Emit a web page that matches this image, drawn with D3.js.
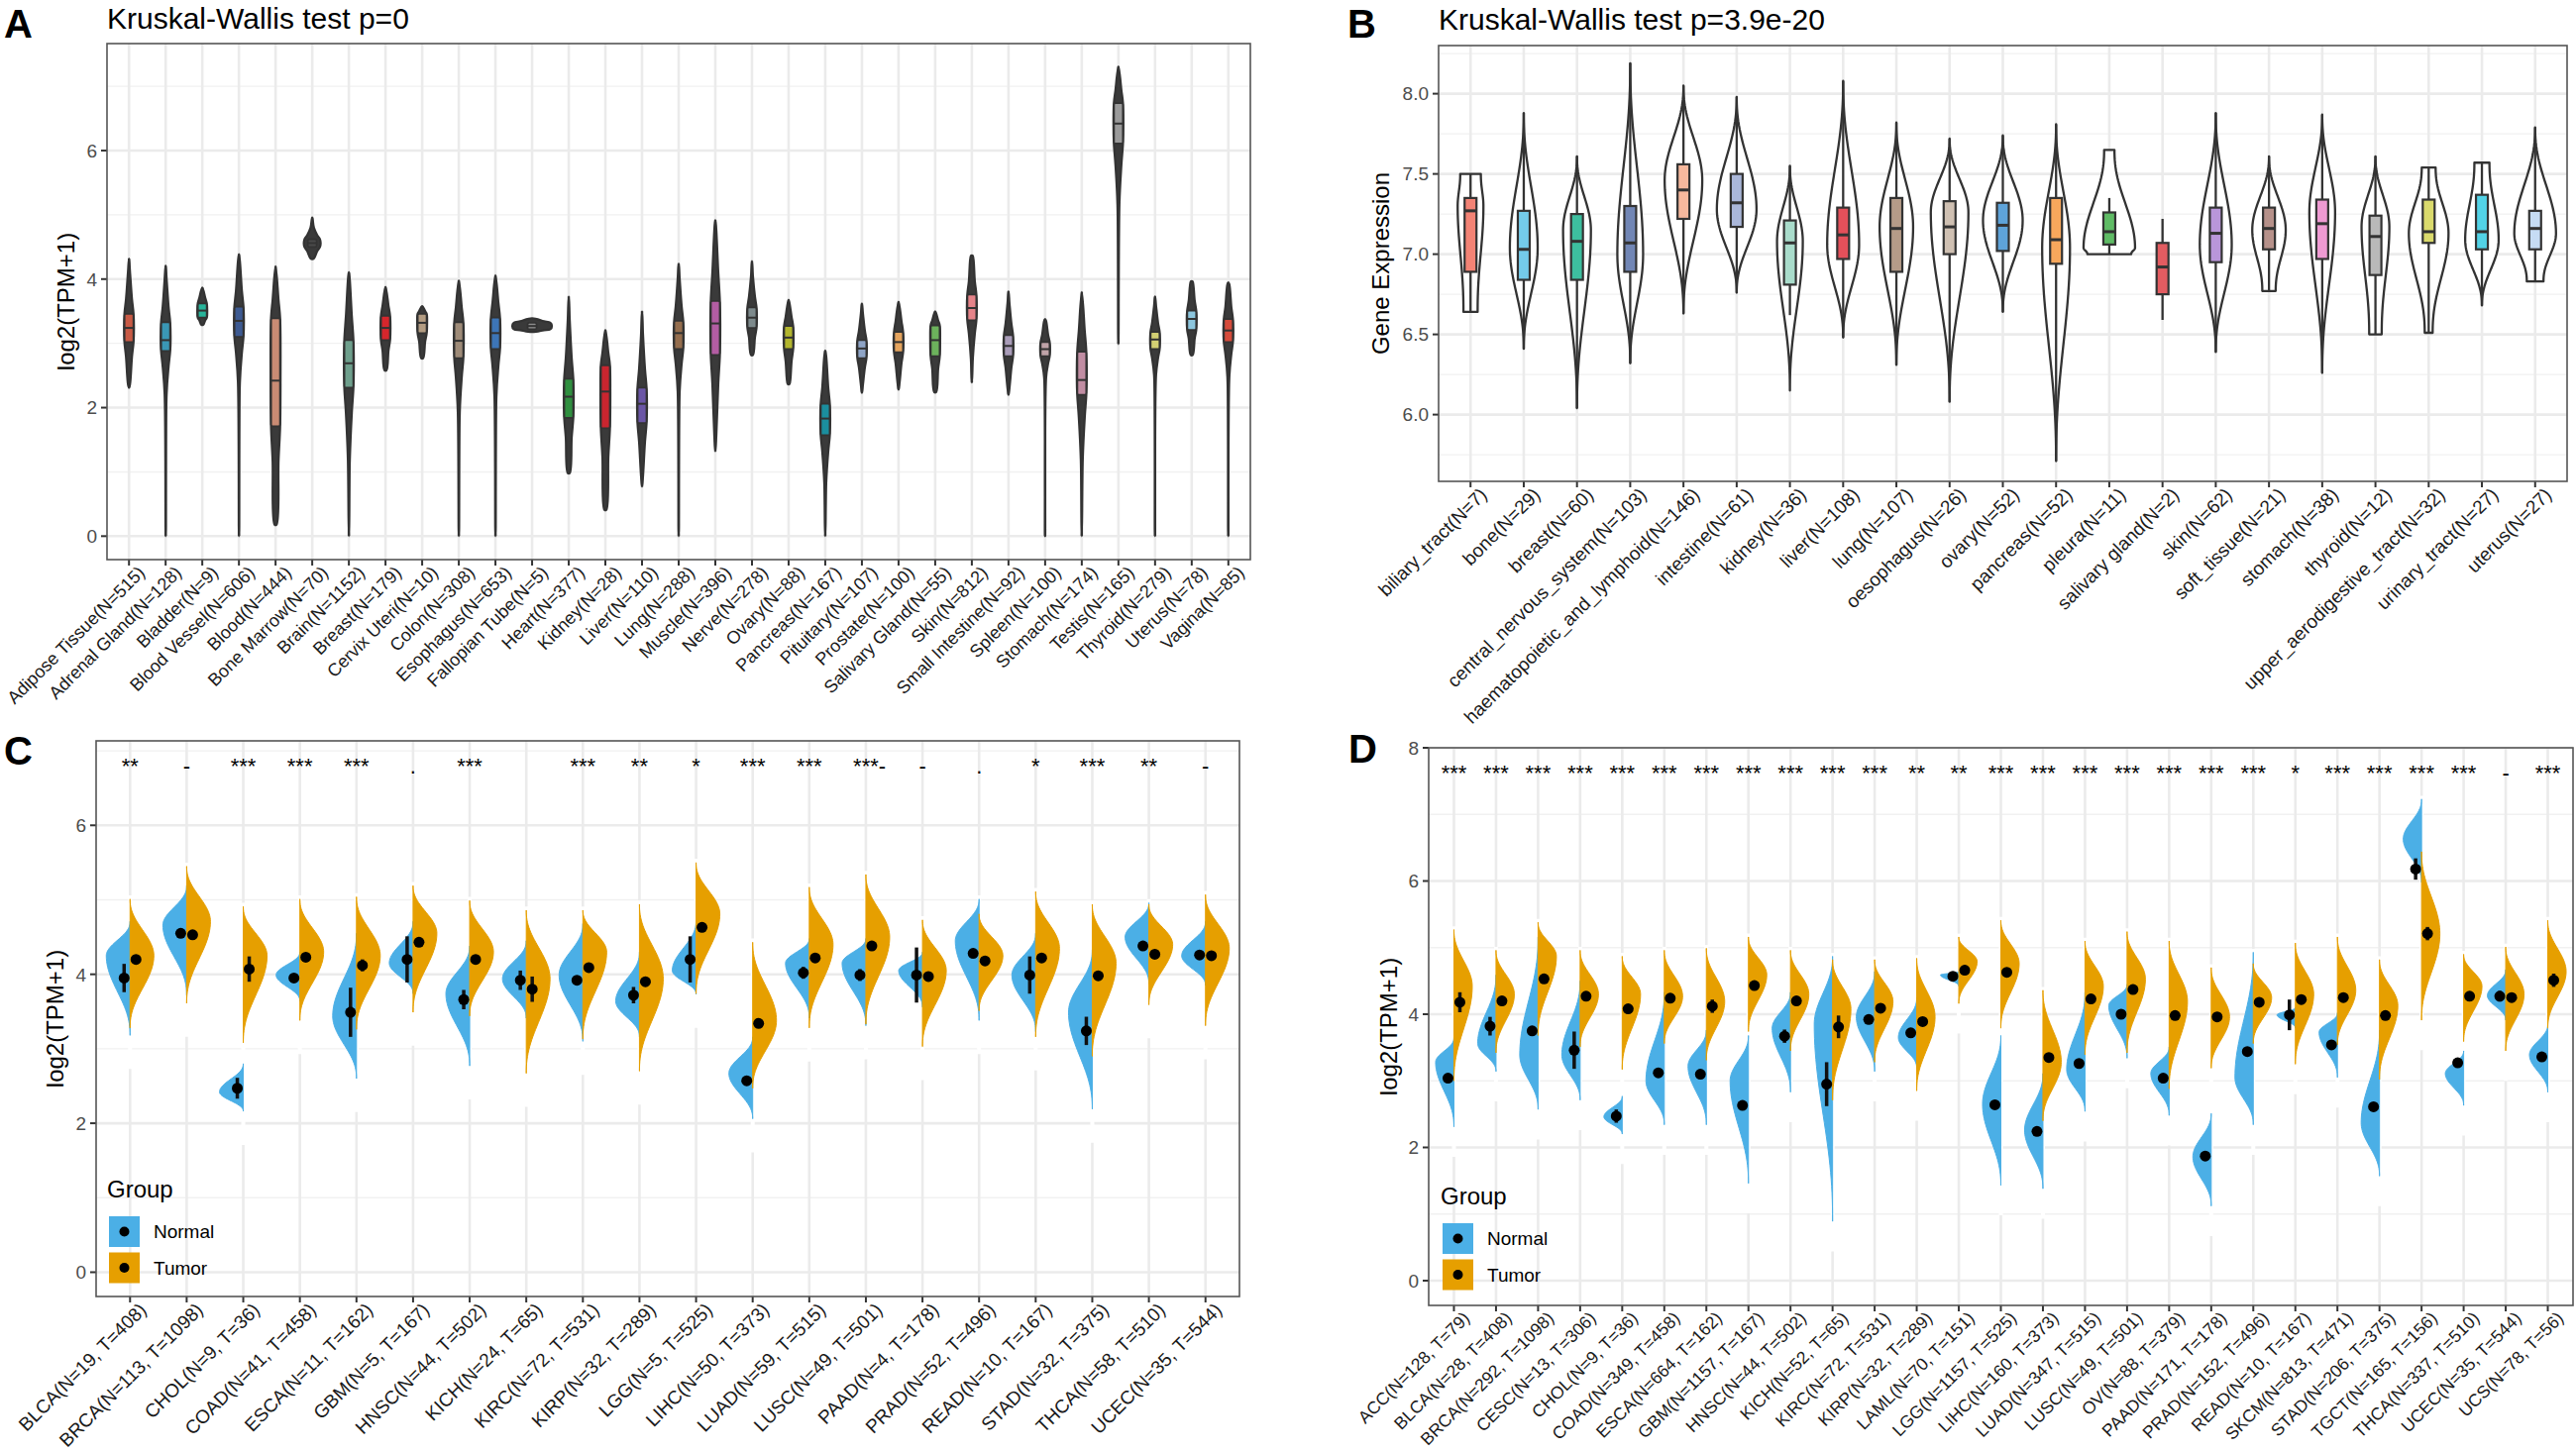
<!DOCTYPE html>
<html>
<head>
<meta charset="utf-8">
<script src="https://cdn.jsdelivr.net/npm/d3@7"></script>
<style>
  body { margin: 0; background: #fff; }
  svg { font-family: "Liberation Sans", Arial, sans-serif; }
</style>
</head>
<body>
<script>
// ---------- panel A : GTEx normal tissues ----------
const tissuesA = ["Adipose Tissue(N=515)", "Adrenal Gland(N=128)", "Bladder(N=9)", "Blood Vessel(N=606)",
  "Blood(N=444)", "Bone Marrow(N=70)", "Brain(N=1152)", "Breast(N=179)", "Cervix Uteri(N=10)", "Colon(N=308)",
  "Esophagus(N=653)", "Fallopian Tube(N=5)", "Heart(N=377)", "Kidney(N=28)", "Liver(N=110)", "Lung(N=288)",
  "Muscle(N=396)", "Nerve(N=278)", "Ovary(N=88)", "Pancreas(N=167)", "Pituitary(N=107)", "Prostate(N=100)",
  "Salivary Gland(N=55)", "Skin(N=812)", "Small Intestine(N=92)", "Spleen(N=100)", "Stomach(N=174)",
  "Testis(N=165)", "Thyroid(N=279)", "Uterus(N=78)", "Vagina(N=85)"];
const minA = [2.31, 0, 3.29, 0, 0.18, 4.31, 0, 2.58, 2.77, 0, 0, 3.18, 0.98, 0.41, 0.77, 0, 1.32, 2.82, 2.36, 0, 2.23, 2.28, 2.24, 2.39, 2.2, 0, 0, 2.99, 0, 2.82, 0];
const q1A = [3.02, 2.88, 3.40, 3.10, 1.71, 4.50, 2.31, 3.05, 3.16, 2.77, 2.91, 3.22, 1.84, 1.68, 1.76, 2.91, 2.82, 3.24, 2.91, 1.57, 2.77, 2.86, 2.80, 3.36, 2.80, 2.80, 2.20, 6.11, 2.91, 3.21, 3.02];
const medA = [3.24, 3.05, 3.51, 3.35, 2.42, 4.56, 2.69, 3.24, 3.32, 3.04, 3.16, 3.27, 2.17, 2.25, 2.06, 3.16, 3.31, 3.40, 3.09, 1.83, 2.92, 3.02, 3.05, 3.55, 2.96, 2.91, 2.43, 6.42, 3.06, 3.38, 3.20];
const q3A = [3.46, 3.33, 3.62, 3.57, 3.39, 4.62, 3.05, 3.43, 3.46, 3.33, 3.40, 3.32, 2.45, 2.66, 2.31, 3.35, 3.66, 3.56, 3.27, 2.06, 3.05, 3.18, 3.28, 3.76, 3.13, 3.02, 2.87, 6.74, 3.18, 3.51, 3.38];
const maxA = [4.32, 4.21, 3.87, 4.39, 4.20, 4.96, 4.11, 3.88, 3.58, 3.98, 4.06, 3.39, 3.73, 3.21, 3.50, 4.24, 4.92, 4.28, 3.68, 2.89, 3.62, 3.65, 3.50, 4.37, 3.81, 3.38, 3.80, 7.31, 3.73, 3.97, 3.95];
const widthA = [1, 1, 1, 1, 1, 1.7, 1, 1, 1, 1, 1, 4, 1, 1, 1, 1, 1, 1, 1, 1, 1, 1, 1, 1, 1, 1, 1, 1, 1, 1, 1];
const paletteA = ["#C85A45", "#3A97B5", "#27B49A", "#3D5A91", "#C98B74", "#4A4A4A", "#6E9F8C", "#D6262C",
  "#B39C82", "#9E8B78", "#3D75B7", "#8C8C8C", "#2F8F3F", "#C9252F", "#6B56A6", "#946D4D", "#B35DA3",
  "#7D8A8C", "#B2B52D", "#1B8E9E", "#8EA4C6", "#E5A45E", "#6CB25C", "#E58389", "#A99CB8", "#BFA3A8",
  "#C18DA3", "#9A9A9A", "#D2CF73", "#8CC6DE", "#D54B3B"];

// ---------- panel B : CCLE cell lines ----------
const linesB = ["biliary_tract(N=7)", "bone(N=29)", "breast(N=60)", "central_nervous_system(N=103)",
  "haematopoietic_and_lymphoid(N=146)", "intestine(N=61)", "kidney(N=36)", "liver(N=108)", "lung(N=107)",
  "oesophagus(N=26)", "ovary(N=52)", "pancreas(N=52)", "pleura(N=11)", "salivary gland(N=2)", "skin(N=62)",
  "soft_tissue(N=21)", "stomach(N=38)", "thyroid(N=12)", "upper_aerodigestive_tract(N=32)",
  "urinary_tract(N=27)", "uterus(N=27)"];
const minB = [6.64, 6.41, 6.04, 6.32, 6.63, 6.76, 6.15, 6.48, 6.31, 6.08, 6.64, 5.71, 7.00, 6.59, 6.39, 6.77, 6.26, 6.50, 6.51, 6.68, 6.83];
const maxB = [7.50, 7.88, 7.61, 8.19, 8.05, 7.98, 7.55, 8.08, 7.82, 7.72, 7.74, 7.81, 7.65, 7.22, 7.88, 7.61, 7.87, 7.61, 7.54, 7.57, 7.79];
const q1B = [6.89, 6.84, 6.84, 6.89, 7.22, 7.17, 6.81, 6.97, 6.89, 7.00, 7.02, 6.94, 7.06, 6.75, 6.95, 7.03, 6.97, 6.87, 7.07, 7.03, 7.03];
const medB = [7.27, 7.03, 7.08, 7.07, 7.40, 7.32, 7.07, 7.12, 7.16, 7.17, 7.18, 7.09, 7.14, 6.92, 7.13, 7.16, 7.19, 7.11, 7.14, 7.14, 7.16];
const q3B = [7.35, 7.27, 7.25, 7.30, 7.56, 7.50, 7.21, 7.29, 7.35, 7.33, 7.32, 7.35, 7.26, 7.07, 7.29, 7.29, 7.34, 7.24, 7.34, 7.37, 7.27];
const whiskLoB = [6.64, 6.41, 6.04, 6.32, 6.63, 6.76, 6.62, 6.48, 6.31, 6.08, 6.64, 5.71, 7.00, 6.59, 6.39, 6.77, 6.26, 6.50, 6.51, 6.68, 6.83];
const whiskHiB = [7.50, 7.88, 7.61, 8.19, 8.05, 7.98, 7.55, 8.08, 7.82, 7.72, 7.74, 7.81, 7.35, 7.22, 7.88, 7.61, 7.87, 7.61, 7.54, 7.57, 7.79];
const peakB = [7.30, 7.04, 7.15, 7.00, 7.46, 7.28, 7.08, 7.06, 7.17, 7.26, 7.21, 7.04, 7.04, 6.92, 7.06, 7.15, 7.26, 7.17, 7.13, 7.09, 7.13];
const widthB = [0.5, 0.54, 0.54, 0.5, 0.73, 0.77, 0.5, 0.62, 0.65, 0.73, 0.77, 0.54, 1.0, 0, 0.62, 0.65, 0.5, 0.54, 0.77, 0.65, 0.81];
const loEndB = [0.55, 0, 0, 0, 0, 0, 0, 0, 0, 0, 0, 0, 0.85, 0, 0, 0.4, 0, 0.45, 0.2, 0, 0.4];
const hiEndB = [0.8, 0, 0, 0, 0, 0, 0, 0, 0, 0, 0, 0, 0.2, 0, 0, 0, 0, 0, 0.35, 0.45, 0];
const paletteB = ["#F38375", "#74CBEA", "#3DBF9F", "#7186B5", "#F6B89D", "#AAB7D9", "#A9DCCB", "#E4505A",
  "#B59B88", "#CFC0B2", "#5EA3D9", "#F7A75C", "#5FBB65", "#E35C61", "#B996DA", "#B6918A", "#EE9AD2",
  "#B9B9B9", "#DADA6C", "#52D2E6", "#C6DCF4"];

// ---------- panel C : TCGA tumour vs normal ----------
const cancersC = ["BLCA(N=19, T=408)", "BRCA(N=113, T=1098)", "CHOL(N=9, T=36)", "COAD(N=41, T=458)",
  "ESCA(N=11, T=162)", "GBM(N=5, T=167)", "HNSC(N=44, T=502)", "KICH(N=24, T=65)", "KIRC(N=72, T=531)",
  "KIRP(N=32, T=289)", "LGG(N=5, T=525)", "LIHC(N=50, T=373)", "LUAD(N=59, T=515)", "LUSC(N=49, T=501)",
  "PAAD(N=4, T=178)", "PRAD(N=52, T=496)", "READ(N=10, T=167)", "STAD(N=32, T=375)", "THCA(N=58, T=510)",
  "UCEC(N=35, T=544)"];
const sigC = ["**", "-", "***", "***", "***", ".", "***", "", "***", "**", "*", "***", "***", "***-", "-", ".", "*", "***", "**", "-"];
const ptNC = [3.95, 4.55, 2.47, 3.95, 3.49, 4.20, 3.66, 3.92, 3.92, 3.72, 4.20, 2.57, 4.02, 3.99, 3.99, 4.28, 3.99, 3.24, 4.38, 4.26];
const ptTC = [4.20, 4.53, 4.07, 4.23, 4.12, 4.43, 4.20, 3.80, 4.09, 3.90, 4.63, 3.34, 4.22, 4.38, 3.97, 4.18, 4.22, 3.98, 4.27, 4.25];
const loNC = [3.18, 3.72, 2.16, 3.64, 2.60, 3.74, 2.77, 3.41, 3.10, 3.16, 3.73, 2.06, 3.41, 3.31, 3.56, 3.38, 3.23, 2.19, 3.87, 3.85];
const hiNC = [4.71, 5.19, 2.80, 4.30, 4.55, 4.71, 4.38, 4.45, 4.68, 4.30, 4.72, 3.16, 4.48, 4.48, 4.30, 5.01, 4.55, 4.33, 4.96, 4.71];
const pkNC = [4.25, 4.66, 2.42, 3.99, 3.44, 4.15, 3.74, 3.94, 3.99, 3.64, 4.05, 2.67, 4.15, 4.15, 4.05, 4.45, 3.99, 3.49, 4.50, 4.25];
const loTC = [3.28, 3.61, 3.08, 3.38, 3.26, 3.49, 3.44, 2.67, 3.13, 2.70, 3.74, 2.47, 3.28, 3.33, 3.03, 3.51, 3.16, 2.90, 3.59, 3.31];
const hiTC = [5.01, 5.45, 4.91, 5.01, 5.04, 5.19, 4.99, 4.86, 4.86, 4.94, 5.50, 4.43, 5.17, 5.34, 4.73, 4.81, 5.11, 4.94, 4.94, 5.07];
const pkTC = [4.25, 4.71, 4.25, 4.30, 4.25, 4.55, 4.30, 3.94, 4.30, 3.94, 4.81, 3.38, 4.40, 4.50, 4.05, 4.25, 4.35, 4.15, 4.40, 4.35];
const errNC = [0.19, 0.05, 0.14, 0.05, 0.33, 0.31, 0.13, 0.13, 0.05, 0.11, 0.31, 0.05, 0.08, 0.08, 0.37, 0.05, 0.25, 0.19, 0.05, 0.05];
const errTC = [0.05, 0.05, 0.17, 0.05, 0.08, 0.05, 0.05, 0.17, 0.05, 0.05, 0.05, 0.05, 0.05, 0.05, 0.05, 0.05, 0.05, 0.05, 0.05, 0.05];

// ---------- panel D : TCGA + GTEx normal ----------
const cancersD = ["ACC(N=128, T=79)", "BLCA(N=28, T=408)", "BRCA(N=292, T=1098)", "CESC(N=13, T=306)",
  "CHOL(N=9, T=36)", "COAD(N=349, T=458)", "ESCA(N=664, T=162)", "GBM(N=1157, T=167)", "HNSC(N=44, T=502)",
  "KICH(N=52, T=65)", "KIRC(N=72, T=531)", "KIRP(N=32, T=289)", "LAML(N=70, T=151)", "LGG(N=1157, T=525)",
  "LIHC(N=160, T=373)", "LUAD(N=347, T=515)", "LUSC(N=49, T=501)", "OV(N=88, T=379)", "PAAD(N=171, T=178)",
  "PRAD(N=152, T=496)", "READ(N=10, T=167)", "SKCM(N=813, T=471)", "STAD(N=206, T=375)",
  "TGCT(N=165, T=156)", "THCA(N=337, T=510)", "UCEC(N=35, T=544)", "UCS(N=78, T=56)"];
const sigD = ["***", "***", "***", "***", "***", "***", "***", "***", "***", "***", "***", "**", "**", "***",
  "***", "***", "***", "***", "***", "***", "*", "***", "***", "***", "***", "-", "***"];
const ptND = [3.04, 3.82, 3.75, 3.46, 2.47, 3.12, 3.10, 2.63, 3.67, 2.95, 3.92, 3.72, 4.57, 2.64, 2.24, 3.26, 4.00, 3.04, 1.87, 3.44, 3.99, 3.54, 2.61, 6.18, 3.27, 4.27, 3.36];
const ptTD = [4.18, 4.20, 4.53, 4.27, 4.08, 4.24, 4.12, 4.43, 4.20, 3.81, 4.09, 3.89, 4.66, 4.63, 3.35, 4.23, 4.37, 3.98, 3.96, 4.18, 4.22, 4.25, 3.98, 5.21, 4.27, 4.25, 4.51];
const loND = [2.31, 3.14, 2.57, 2.71, 2.20, 2.34, 2.34, 1.46, 2.83, 0.89, 3.14, 3.19, 4.42, 1.43, 1.38, 2.54, 3.34, 2.48, 1.12, 2.34, 3.79, 3.05, 1.57, 5.98, 2.63, 3.91, 2.83];
const hiND = [3.65, 4.59, 5.16, 4.50, 2.77, 4.33, 3.76, 3.68, 4.33, 4.87, 4.64, 4.25, 4.64, 3.68, 3.11, 4.33, 4.45, 3.51, 2.51, 4.93, 4.10, 4.02, 3.76, 7.23, 3.45, 4.67, 3.85];
const pkND = [3.28, 3.56, 3.39, 3.39, 2.46, 3.00, 3.22, 3.00, 3.79, 3.85, 3.96, 3.65, 4.59, 2.65, 2.26, 3.17, 4.13, 3.11, 1.86, 3.05, 3.99, 3.73, 2.37, 6.63, 3.11, 4.28, 3.39];
const loTD = [3.00, 3.42, 3.68, 3.51, 3.17, 3.56, 3.31, 3.74, 3.45, 2.71, 3.28, 2.85, 4.16, 3.79, 2.40, 3.39, 3.42, 2.88, 3.19, 3.56, 3.25, 3.54, 3.02, 3.91, 3.59, 3.45, 3.79];
const hiTD = [5.27, 4.96, 5.38, 4.96, 4.87, 4.96, 4.99, 5.16, 4.96, 4.82, 4.82, 4.84, 5.16, 5.41, 4.36, 5.10, 5.24, 5.10, 4.70, 4.76, 5.07, 5.16, 4.82, 6.44, 4.90, 5.01, 5.41];
const pkTD = [4.42, 4.30, 4.87, 4.30, 4.30, 4.27, 4.19, 4.59, 4.30, 4.08, 4.19, 3.96, 4.79, 4.76, 3.28, 4.42, 4.53, 4.19, 3.96, 4.25, 4.30, 4.36, 4.13, 5.21, 4.42, 4.30, 4.64];
const errND = [0.05, 0.14, 0.05, 0.28, 0.10, 0.05, 0.05, 0.05, 0.10, 0.33, 0.05, 0.05, 0.05, 0.05, 0.05, 0.05, 0.05, 0.05, 0.05, 0.05, 0.23, 0.05, 0.05, 0.16, 0.05, 0.08, 0.05];
const errTD = [0.15, 0.05, 0.05, 0.05, 0.05, 0.05, 0.10, 0.05, 0.05, 0.17, 0.05, 0.05, 0.05, 0.05, 0.05, 0.05, 0.05, 0.05, 0.05, 0.05, 0.05, 0.05, 0.05, 0.10, 0.05, 0.05, 0.10];

const groups = ["Normal", "Tumor"];
const groupColors = ["#4BAFE6", "#E69F00"];

// ---------- helpers ----------
const svg = d3.select("body").append("svg")
  .attr("width", 2600)
  .attr("height", 1466);
svg.append("rect").attr("width", 2600).attr("height", 1466).attr("fill", "#fff");

// draws background grid, axes and labels; returns the group to put marks in
function drawFrame(cfg) {
  var g = svg.append("g");
  var x = cfg.x, y = cfg.y;
  var [x0, x1] = x.range(), [y1, y0] = y.range();

  g.selectAll("line.minor").data(cfg.minor).enter().append("line")
    .attr("class", "minor")
    .attr("x1", x0).attr("x2", x1)
    .attr("y1", (d) => y(d)).attr("y2", (d) => y(d))
    .attr("stroke", "#F1F1F1").attr("stroke-width", 1.4);
  g.selectAll("line.major").data(cfg.major).enter().append("line")
    .attr("class", "major")
    .attr("x1", x0).attr("x2", x1)
    .attr("y1", (d) => y(d)).attr("y2", (d) => y(d))
    .attr("stroke", "#EBEBEB").attr("stroke-width", 2.6);
  g.selectAll("line.vgrid").data(x.domain()).enter().append("line")
    .attr("class", "vgrid")
    .attr("x1", (d) => x(d)).attr("x2", (d) => x(d))
    .attr("y1", y0).attr("y2", y1)
    .attr("stroke", "#EBEBEB").attr("stroke-width", 2.6);

  // y axis
  g.selectAll("line.ytick").data(cfg.major).enter().append("line")
    .attr("class", "ytick")
    .attr("x1", x0 - 6).attr("x2", x0)
    .attr("y1", (d) => y(d)).attr("y2", (d) => y(d))
    .attr("stroke", "#333").attr("stroke-width", 2);
  g.selectAll("text.ylab").data(cfg.major).enter().append("text")
    .attr("class", "ylab")
    .attr("x", x0 - 10).attr("y", (d) => y(d))
    .attr("dy", "0.36em")
    .attr("text-anchor", "end")
    .attr("font-size", 19).attr("fill", "#4D4D4D")
    .text(cfg.fmt);

  // x axis
  g.selectAll("line.xtick").data(x.domain()).enter().append("line")
    .attr("class", "xtick")
    .attr("x1", (d) => x(d)).attr("x2", (d) => x(d))
    .attr("y1", y1).attr("y2", y1 + 6)
    .attr("stroke", "#333").attr("stroke-width", 2);
  g.selectAll("text.xlab").data(x.domain()).enter().append("text")
    .attr("class", "xlab")
    .attr("transform", (d) => `translate(${x(d) + 8}, ${y1 + 5}) rotate(-45)`)
    .attr("text-anchor", "end")
    .attr("dy", "0.72em")
    .attr("font-size", cfg.labelSize).attr("fill", "#1A1A1A")
    .text((d) => d);

  // axis title
  g.append("text")
    .attr("transform", `translate(${cfg.titleX}, ${(y0 + y1) / 2}) rotate(-90)`)
    .attr("text-anchor", "middle")
    .attr("dy", "0.35em")
    .attr("font-size", 24)
    .text(cfg.yTitle);

  // panel letter and heading
  g.append("text")
    .attr("x", cfg.letterX).attr("y", cfg.letterY)
    .attr("font-size", 40).attr("font-weight", "bold")
    .text(cfg.letter);
  if (cfg.heading) {
    g.append("text")
      .attr("x", x0).attr("y", cfg.headingY)
      .attr("font-size", 30)
      .text(cfg.heading);
  }

  var marks = g.append("g");
  g.append("rect")
    .attr("x", x0).attr("y", y0)
    .attr("width", x1 - x0).attr("height", y1 - y0)
    .attr("fill", "none").attr("stroke", "#555").attr("stroke-width", 1.6);
  return marks;
}

// violin outline profile from box statistics, ordered top (max) to bottom (min)
function boxProfile(mn, q1, md, q3, mx) {
  var iqr = q3 - q1;
  var uw = Math.min(mx, q3 + 1.5 * iqr), lw = Math.max(mn, q1 - 1.5 * iqr);
  var raw = [[mx, 0], [uw, 0.2], [q3 + (uw - q3) * 0.35, 0.6], [q3, 0.92], [md, 1],
    [q1, 0.92], [q1 - (q1 - lw) * 0.35, 0.6], [lw, 0.2], [mn, 0]];
  return raw.filter((p, i) => i === 0 || raw[i - 1][0] - p[0] > 0.01);
}

// smooth density-like bump, ordered top (hi) to bottom (lo)
function bump(lo, pk, hi, loEnd, hiEnd) {
  var n = 28, pts = [];
  for (var i = 0; i <= n; i++) {
    var t = i / n;
    var s = 0.5 - 0.5 * Math.cos(Math.PI * t);
    pts.push([hi - (hi - pk) * t, hiEnd + (1 - hiEnd) * Math.pow(s, 1.15)]);
  }
  for (var j = 1; j <= n; j++) {
    var t2 = 1 - j / n;
    var s2 = 0.5 - 0.5 * Math.cos(Math.PI * t2);
    pts.push([pk - (pk - lo) * (j / n), loEnd + (1 - loEnd) * Math.pow(s2, 1.15)]);
  }
  return pts;
}

// ---------- panel A ----------
var xA = d3.scalePoint().domain(tissuesA).range([108, 1262]).padding(0.6);
var yA = d3.scaleLinear().domain([-0.365, 7.665]).range([565, 44]);
var gA = drawFrame({
  x: xA, y: yA, major: [0, 2, 4, 6], minor: [1, 3, 5, 7], fmt: (d) => d, labelSize: 18,
  yTitle: "log2(TPM+1)", titleX: 67, letter: "A", letterX: 4, letterY: 38,
  heading: "Kruskal-Wallis test p=0", headingY: 29,
});

tissuesA.forEach(function(t, i) {
  var cx = xA(t);
  var hw = 5 * widthA[i];
  var prof = boxProfile(minA[i], q1A[i], medA[i], q3A[i], maxA[i]);
  var right = prof.map((p) => [cx + p[1] * hw, yA(p[0])]);
  var left = prof.slice().reverse().filter((p) => p[1] > 0).map((p) => [cx - p[1] * hw, yA(p[0])]);
  gA.append("line")
    .attr("x1", cx).attr("x2", cx)
    .attr("y1", yA(maxA[i])).attr("y2", yA(minA[i]))
    .attr("stroke", "#333").attr("stroke-width", 2.4);
  gA.append("path")
    .attr("d", d3.line().curve(d3.curveCatmullRomClosed)(right.concat(left)))
    .attr("fill", "#3a3a3a").attr("stroke", "#333").attr("stroke-width", 2.2);
  gA.append("rect")
    .attr("x", cx - 4.5).attr("width", 9)
    .attr("y", yA(q3A[i])).attr("height", yA(q1A[i]) - yA(q3A[i]))
    .attr("rx", 1.5)
    .attr("fill", paletteA[i]).attr("stroke", "#333").attr("stroke-width", 1.8);
  gA.append("line")
    .attr("x1", cx - 4.5).attr("x2", cx + 4.5)
    .attr("y1", yA(medA[i])).attr("y2", yA(medA[i]))
    .attr("stroke", "#333").attr("stroke-width", 2);
});

// ---------- panel B ----------
var xB = d3.scalePoint().domain(linesB).range([1452, 2591]).padding(0.6);
var yB = d3.scaleLinear().domain([5.584, 8.30]).range([486, 46]);
var gB = drawFrame({
  x: xB, y: yB, major: [6.0, 6.5, 7.0, 7.5, 8.0], minor: [5.75, 6.25, 6.75, 7.25, 7.75, 8.25],
  fmt: d3.format(".1f"), labelSize: 19, yTitle: "Gene Expression", titleX: 1394,
  letter: "B", letterX: 1360, letterY: 38,
  heading: "Kruskal-Wallis test p=3.9e-20", headingY: 30,
});

linesB.forEach(function(t, i) {
  var cx = xB(t);
  if (widthB[i] > 0) {
    var hw = 26 * widthB[i];
    var prof = bump(minB[i], peakB[i], maxB[i], loEndB[i], hiEndB[i]);
    var right = prof.map((p) => [cx + p[1] * hw, yB(p[0])]);
    var left = prof.slice().reverse().map((p) => [cx - p[1] * hw, yB(p[0])]);
    gB.append("path")
      .attr("d", d3.line()(right.concat(left)) + "Z")
      .attr("fill", "#fff").attr("stroke", "#333").attr("stroke-width", 2.3)
      .attr("stroke-linejoin", "round");
  }
  gB.append("line")
    .attr("x1", cx).attr("x2", cx)
    .attr("y1", yB(whiskHiB[i])).attr("y2", yB(whiskLoB[i]))
    .attr("stroke", "#333").attr("stroke-width", 2.3);
  gB.append("rect")
    .attr("x", cx - 6).attr("width", 12)
    .attr("y", yB(q3B[i])).attr("height", yB(q1B[i]) - yB(q3B[i]))
    .attr("fill", paletteB[i]).attr("stroke", "#333").attr("stroke-width", 2.2);
  gB.append("line")
    .attr("x1", cx - 6).attr("x2", cx + 6)
    .attr("y1", yB(medB[i])).attr("y2", yB(medB[i]))
    .attr("stroke", "#333").attr("stroke-width", 3);
});

// ---------- split violins (C and D) ----------
function drawSplit(g, x, y, cats, d, hw, sigY) {
  cats.forEach(function(c, i) {
    var cx = x(c);
    // gap in the vertical grid line behind the violins
    g.append("line")
      .attr("x1", cx).attr("x2", cx)
      .attr("y1", y(Math.max(d.hiN[i], d.hiT[i]) + 0.05))
      .attr("y2", y(Math.min(d.loN[i], d.loT[i]) - 0.45))
      .attr("stroke", "#fff").attr("stroke-width", 4);
    [
      [d.loN[i], d.pkN[i], d.hiN[i], -1, 0],
      [d.loT[i], d.pkT[i], d.hiT[i], 1, 1],
    ].forEach(function(v) {
      var prof = bump(v[0], v[1], v[2], 0, 0);
      var pts = prof.map((p) => [cx + v[3] * p[1] * hw, y(p[0])]);
      g.append("path")
        .attr("d", d3.line()(pts) + "Z")
        .attr("fill", groupColors[v[4]])
        .attr("stroke", groupColors[v[4]]).attr("stroke-width", 1);
    });
    [
      [d.ptN[i], d.errN[i], -6],
      [d.ptT[i], d.errT[i], 6],
    ].forEach(function(p) {
      g.append("line")
        .attr("x1", cx + p[2]).attr("x2", cx + p[2])
        .attr("y1", y(p[0] + p[1])).attr("y2", y(p[0] - p[1]))
        .attr("stroke", "#111").attr("stroke-width", 3.5);
      g.append("circle")
        .attr("cx", cx + p[2]).attr("cy", y(p[0]))
        .attr("r", 5.5).attr("fill", "#000");
    });
    // significance label
    var s = d.sig[i];
    var core = s.length > 1 && s.endsWith("-") ? s.slice(0, -1) : s;
    var txt = g.append("text")
      .attr("x", cx).attr("y", sigY)
      .attr("text-anchor", "middle")
      .attr("font-size", 22)
      .text(core);
    if (core !== s) {
      var wCore = txt.node().getComputedTextLength();
      g.append("text")
        .attr("x", cx + wCore / 2).attr("y", sigY)
        .attr("font-size", 22)
        .text("-");
    }
  });
}

function drawLegend(g, lx, ly) {
  g.append("text").attr("x", lx).attr("y", ly).attr("font-size", 24).text("Group");
  groups.forEach(function(name, k) {
    var top = ly + 19 + k * 36.5;
    g.append("rect")
      .attr("x", lx + 2).attr("y", top)
      .attr("width", 31).attr("height", 31)
      .attr("fill", groupColors[k]);
    g.append("circle")
      .attr("cx", lx + 17.5).attr("cy", top + 15.5)
      .attr("r", 5).attr("fill", "#000");
    g.append("text")
      .attr("x", lx + 47).attr("y", top + 15.5)
      .attr("dy", "0.36em")
      .attr("font-size", 19)
      .text(name);
  });
}

// ---------- panel C ----------
var xC = d3.scalePoint().domain(cancersC).range([97, 1251]).padding(0.6);
var yC = d3.scaleLinear().domain([-0.326, 7.134]).range([1309, 748]);
var gC = drawFrame({
  x: xC, y: yC, major: [0, 2, 4, 6], minor: [1, 3, 5, 7], fmt: (d) => d, labelSize: 19,
  yTitle: "log2(TPM+1)", titleX: 56, letter: "C", letterX: 4, letterY: 772,
});
drawSplit(gC, xC, yC, cancersC, {
  ptN: ptNC, ptT: ptTC, loN: loNC, hiN: hiNC, pkN: pkNC, loT: loTC, hiT: hiTC, pkT: pkTC,
  errN: errNC, errT: errTC, sig: sigC,
}, 24, 781);
drawLegend(gC, 108, 1209);

// ---------- panel D ----------
var xD = d3.scalePoint().domain(cancersD).range([1442, 2597]).padding(0.6);
var yD = d3.scaleLinear().domain([-0.372, 8.0]).range([1318, 755]);
var gD = drawFrame({
  x: xD, y: yD, major: [0, 2, 4, 6, 8], minor: [1, 3, 5, 7], fmt: (d) => d, labelSize: 17.5,
  yTitle: "log2(TPM+1)", titleX: 1402, letter: "D", letterX: 1361, letterY: 770,
});
drawSplit(gD, xD, yD, cancersD, {
  ptN: ptND, ptT: ptTD, loN: loND, hiN: hiND, pkN: pkND, loT: loTD, hiT: hiTD, pkT: pkTD,
  errN: errND, errT: errTD, sig: sigD,
}, 18.5, 788);
drawLegend(gD, 1454, 1216);
</script>
</body>
</html>
